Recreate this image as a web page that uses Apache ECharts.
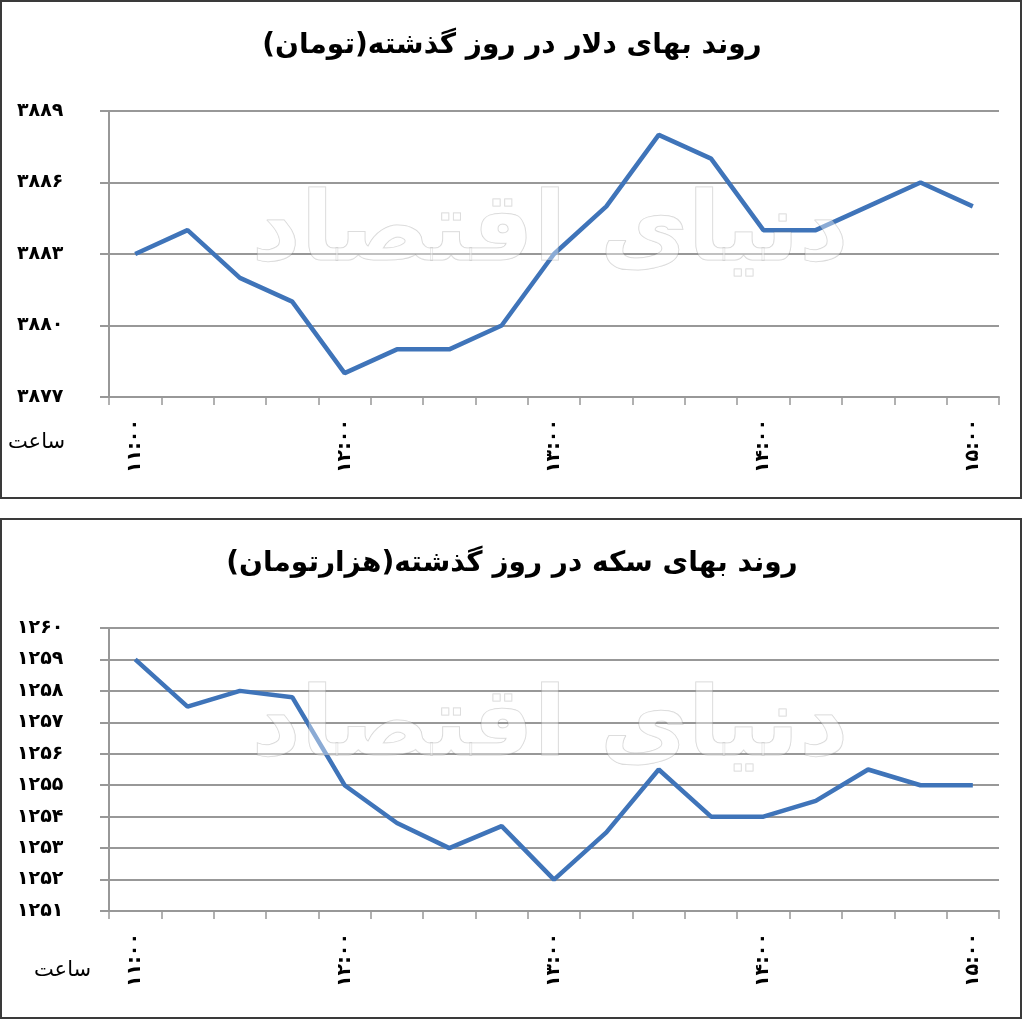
<!DOCTYPE html>
<html><head><meta charset="utf-8">
<script src="https://cdn.jsdelivr.net/npm/echarts@6/dist/echarts.min.js"></script>
<style>html,body{margin:0;padding:0;background:#fff}#c{width:1024px;height:1021px}</style>
</head><body><div id="c"></div>
<script>
// Categories: time of day every 15 minutes (Persian digits)
const times = ['۱۱:۰۰','۱۱:۱۵','۱۱:۳۰','۱۱:۴۵','۱۲:۰۰','۱۲:۱۵','۱۲:۳۰','۱۲:۴۵','۱۳:۰۰','۱۳:۱۵','۱۳:۳۰','۱۳:۴۵','۱۴:۰۰','۱۴:۱۵','۱۴:۳۰','۱۴:۴۵','۱۵:۰۰'];
// Dollar price (toman)
const dollarValues = [3883, 3884, 3882, 3881, 3878, 3879, 3879, 3880, 3883, 3885, 3888, 3887, 3884, 3884, 3885, 3886, 3885];
// Gold coin price (thousand toman)
const coinValues = [1259, 1257.5, 1258, 1257.8, 1255, 1253.8, 1253, 1253.7, 1252, 1253.5, 1255.5, 1254, 1254, 1254.5, 1255.5, 1255, 1255];
const dollarTitle = 'روند بهای دلار در روز گذشته(تومان)';
const coinTitle = 'روند بهای سکه در روز گذشته(هزارتومان)';
const xAxisName = 'ساعت';
const watermark = 'دنیای اقتصاد';
const dollarAxis = {min: 3877, max: 3889, interval: 3};
const coinAxis = {min: 1251, max: 1260, interval: 1};

const RLM = '\u200F';
const fa = v => String(v).replace(/\d/g, d => '۰۱۲۳۴۵۶۷۸۹'[d]);
const FONT = 'DejaVu Sans';
const GRAY = '#989898';
const BLUE = '#3F74B9';

function xAxisFor(gi) {
  return {
    type: 'category', gridIndex: gi, data: times, boundaryGap: true,
    axisLine: {lineStyle: {color: GRAY, width: 2}},
    axisTick: {show: true, interval: 0, length: 8, lineStyle: {color: GRAY, width: 1.5}},
    axisLabel: {interval: 3, rotate: 90, margin: 22, fontFamily: FONT, fontWeight: 'bold', fontSize: 19, color: '#000'},
    splitLine: {show: false}
  };
}
function yAxisFor(gi, ax) {
  return {
    type: 'value', gridIndex: gi, min: ax.min, max: ax.max, interval: ax.interval,
    axisLine: {show: true, lineStyle: {color: GRAY, width: 2}},
    axisTick: {show: true, length: 9, lineStyle: {color: GRAY, width: 2}},
    axisLabel: {margin: 92, align: 'left', formatter: v => fa(v), fontFamily: FONT, fontWeight: 'bold', fontSize: 19, color: '#000'},
    splitLine: {show: true, lineStyle: {color: GRAY, width: 2}}
  };
}
function wm(cx, cy) {
  return {type: 'text', x: cx, y: cy, z: 100, silent: true,
    style: {text: watermark, font: 'bold 96px "DejaVu Sans"', fill: 'rgba(255,255,255,0.4)', stroke: 'rgba(110,110,110,0.3)', lineWidth: 1, align: 'center', verticalAlign: 'middle'}};
}

const chart = echarts.init(document.getElementById('c'), null, {renderer: 'canvas'});
chart.setOption({
  animation: false,
  backgroundColor: '#fff',
  title: [
    {text: RLM + dollarTitle + RLM, left: 'center', top: 27, textStyle: {fontFamily: FONT, fontWeight: 'bold', fontSize: 28, color: '#000'}},
    {text: RLM + coinTitle + RLM, left: 'center', top: 545, textStyle: {fontFamily: FONT, fontWeight: 'bold', fontSize: 28, color: '#000'}}
  ],
  grid: [
    {left: 109, top: 111, width: 890, height: 286},
    {left: 109, top: 628, width: 890, height: 283}
  ],
  xAxis: [xAxisFor(0), xAxisFor(1)],
  yAxis: [yAxisFor(0, dollarAxis), yAxisFor(1, coinAxis)],
  series: [
    {type: 'line', xAxisIndex: 0, yAxisIndex: 0, data: dollarValues, symbol: 'none', lineStyle: {color: BLUE, width: 4.5}, z: 5},
    {type: 'line', xAxisIndex: 1, yAxisIndex: 1, data: coinValues, symbol: 'none', lineStyle: {color: BLUE, width: 4.5}, z: 5}
  ],
  graphic: [
    {type: 'rect', shape: {x: 1, y: 1, width: 1020, height: 497}, style: {fill: 'none', stroke: '#3a3a3a', lineWidth: 2}, silent: true},
    {type: 'rect', shape: {x: 1, y: 519, width: 1020, height: 499}, style: {fill: 'none', stroke: '#3a3a3a', lineWidth: 2}, silent: true},
    {type: 'text', left: 8, top: 432, style: {text: xAxisName, font: '21px "DejaVu Sans"', fill: '#000'}},
    {type: 'text', left: 34, top: 960, style: {text: xAxisName, font: '21px "DejaVu Sans"', fill: '#000'}},
    wm(550, 235),
    wm(550, 730)
  ]
});
</script></body></html>
